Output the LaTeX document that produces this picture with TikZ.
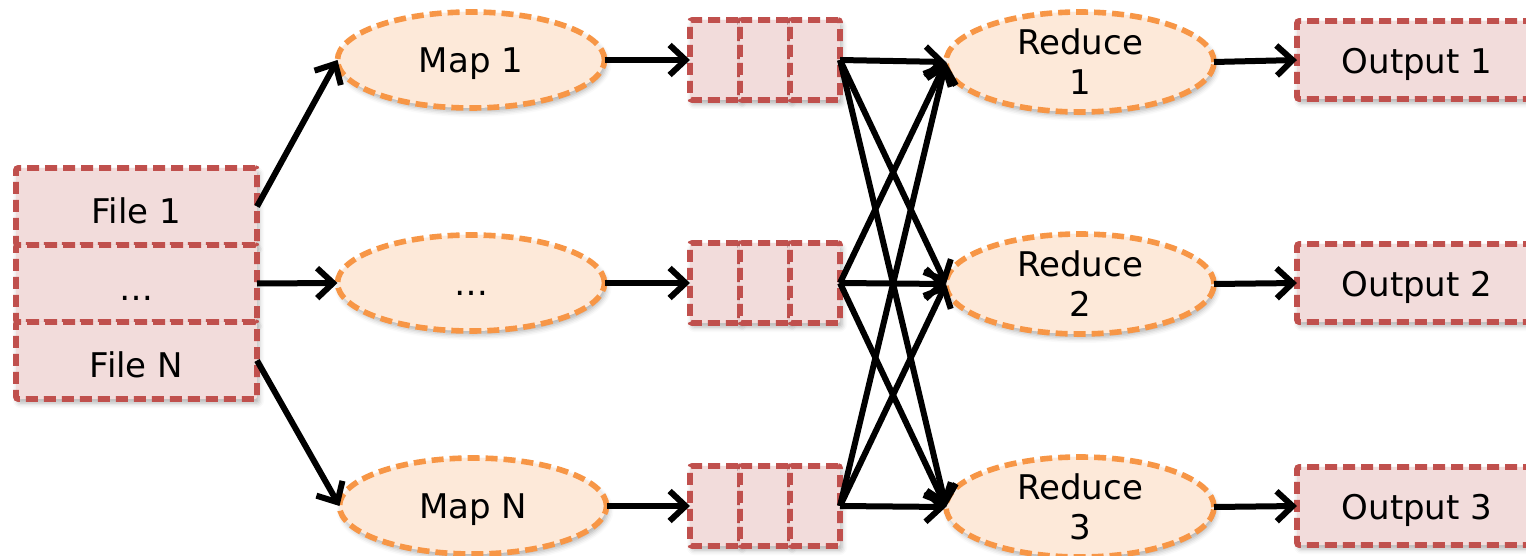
\documentclass[tikz,border=0pt]{standalone}
\usepackage{fontspec}
\setmainfont{DejaVu Sans}
\usetikzlibrary{arrows.meta,shapes.geometric,shadows.blur}
\definecolor{boxfill}{HTML}{F2DCDB}
\definecolor{boxline}{HTML}{C0504D}
\definecolor{ovalfill}{HTML}{FDE9D9}
\definecolor{ovalline}{HTML}{F79646}
% single-line labels sit a little below the shape centre
\newcommand{\lowtext}[1]{\raisebox{-2pt}[\height][\depth]{#1}}
\begin{document}
\begin{tikzpicture}[x=0.5pt,y=-0.5pt,
  every node/.style={font=\fontsize{17}{20}\selectfont, inner sep=0pt, outer sep=0pt},
  softshadow/.style={blur shadow={shadow xshift=1pt, shadow yshift=-2pt, shadow blur radius=2.5pt, shadow opacity=30}},
  filebox/.style={rectangle, draw=boxline, fill=boxfill, line width=2.8pt,
    dash pattern=on 6pt off 3pt, rounded corners=1pt, softshadow},
  cell/.style={filebox, minimum width=25pt, minimum height=40pt},
  oval/.style={ellipse, draw=ovalline, fill=ovalfill, line width=2.8pt,
    dash pattern=on 6pt off 3pt, minimum width=133.5pt, minimum height=48pt,
    align=center, softshadow},
  flow/.style={line width=3pt, -{Straight Barb[length=8pt,width=15pt,line width=3pt]}}
]
\clip (0,0) rectangle (1526,556);

% input files
\node[filebox, minimum width=120.5pt, minimum height=38.5pt] (f1) at (136.5,206.5) {\lowtext{File 1}};
\node[filebox, minimum width=120.5pt, minimum height=38.5pt] (f2) at (136.5,283.5) {\lowtext{\vphantom{File}…}};
\node[filebox, minimum width=120.5pt, minimum height=38.5pt] (f3) at (136.5,360.5) {\lowtext{File N}};

% map tasks
\node[oval] (m1) at (471,60) {\lowtext{Map 1}};
\node[oval] (m2) at (471,283) {\lowtext{\vphantom{Map}…}};
\node[oval] (m3) at (473,506) {\lowtext{Map N}};

% intermediate buffers, three cells each
\foreach \r/\y in {1/60,2/283,3/506}{
  \node[cell] (b\r a) at (715,\y) {};
  \node[cell] (b\r b) at (765,\y) {};
  \node[cell] (b\r c) at (815,\y) {};
}

% reduce tasks
\node[oval, minimum width=134pt, minimum height=50pt] (r1) at (1080,62) {Reduce\\1};
\node[oval, minimum width=134pt, minimum height=50pt] (r2) at (1080,284) {Reduce\\2};
\node[oval, minimum width=134pt, minimum height=50pt] (r3) at (1080,507) {Reduce\\3};

% outputs
\node[filebox, minimum width=120pt, minimum height=39pt] (o1) at (1417,60) {\lowtext{Output 1}};
\node[filebox, minimum width=120pt, minimum height=39pt] (o2) at (1417,283) {\lowtext{Output 2}};
\node[filebox, minimum width=120pt, minimum height=39pt] (o3) at (1417,506) {\lowtext{Output 3}};

% files to maps
\draw[flow] (f1.east) -- (m1.west);
\draw[flow] (f2.east) -- (m2.west);
\draw[flow] (f3.east) -- (m3.west);

% maps to buffers
\foreach \r in {1,2,3}{
  \draw[flow] (m\r.east) -- (b\r a.west);
}

% shuffle: every buffer to every reducer
\foreach \s in {1,2,3}{
  \foreach \t in {1,2,3}{
    \draw[flow] (b\s c.east) -- (r\t.west);
  }
}

% reducers to outputs
\foreach \r in {1,2,3}{
  \draw[flow] (r\r.east) -- (o\r.west);
}
\end{tikzpicture}
\end{document}
